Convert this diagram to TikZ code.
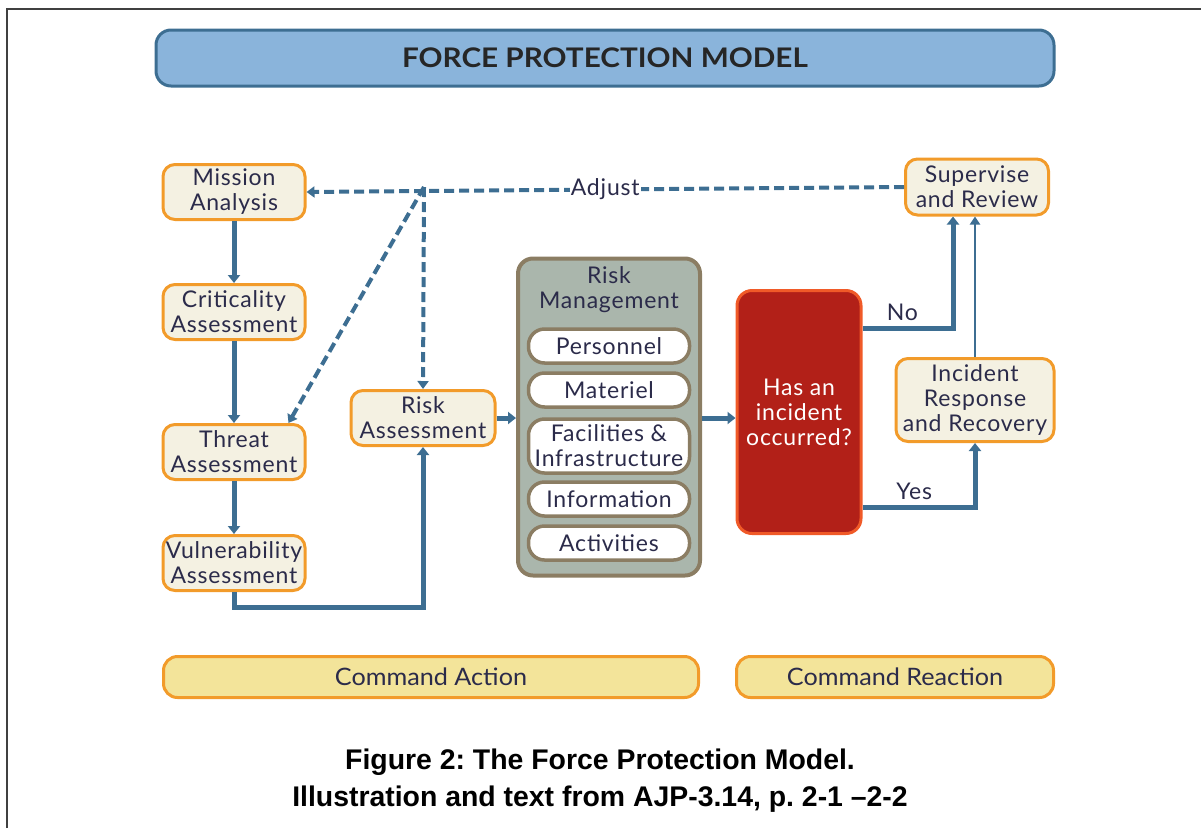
\documentclass[tikz,border=0pt]{standalone}
\usepackage{fontspec}
\setmainfont{Lato}
\newfontfamily\boxfont[LetterSpace=3.5]{Lato}
\newfontfamily\capfont{Liberation Sans}
\usetikzlibrary{arrows.meta}
\definecolor{lnblue}{HTML}{3D6E92}
\definecolor{boxfill}{HTML}{F4F1E2}
\definecolor{boxline}{HTML}{F29B2A}
\definecolor{txt}{HTML}{2B2B4A}
\definecolor{titlefill}{HTML}{8AB4DB}
\definecolor{titleline}{HTML}{3D6E92}
\definecolor{rmfill}{HTML}{AAB6AC}
\definecolor{rmline}{HTML}{8B7D63}
\definecolor{redfill}{HTML}{B22018}
\definecolor{redline}{HTML}{F05A28}
\definecolor{cmdfill}{HTML}{F3E49A}
\frenchspacing
\begin{document}
\begin{tikzpicture}[x=1pt,y=-1pt,
  stepbox/.style={draw=boxline, line width=3pt, fill=boxfill, rounded corners=12pt,
    text=txt, align=center, font=\boxfont\fontsize{23}{25}\selectfont,
    minimum width=142pt, minimum height=55pt, inner sep=0pt},
  pill/.style={draw=rmline, line width=3.5pt, fill=white, rounded corners=16pt,
    text=txt, align=center, font=\boxfont\fontsize{23}{25}\selectfont,
    minimum width=161pt, minimum height=34pt, inner sep=0pt},
  cmdbox/.style={draw=boxline, line width=3pt, fill=cmdfill, rounded corners=14pt,
    text=txt, font=\fontsize{24}{26}\selectfont, minimum height=41pt, inner sep=0pt},
  flow/.style={draw=lnblue, line width=5pt, -{Triangle[length=8pt,width=12pt]}},
  thinflow/.style={draw=lnblue, line width=2.5pt, -{Triangle[length=8pt,width=10pt]}},
  dashflow/.style={draw=lnblue, line width=4pt, dash pattern=on 10pt off 5pt,
    -{Triangle[length=8pt,width=11pt]}},
  lbl/.style={text=txt, font=\boxfont\fontsize{23}{25}\selectfont, inner sep=2pt}
]
\useasboundingbox (0,0) rectangle (1201,828);
% frame lines
\draw[line width=1.8pt, black!75] (7,828) -- (7,9) -- (1201,9);

% title
\node[draw=titleline, line width=3pt, fill=titlefill, rounded corners=15pt,
  minimum width=898pt, minimum height=56pt, inner sep=0pt,
  font=\bfseries\fontsize{27}{28}\selectfont, text=black!85] (title) at (605,58)
  {\scalebox{1.1}[1]{FORCE PROTECTION MODEL}};

% left column
\node[stepbox] (ma) at (234,192) {Mission\\Analysis};
\node[stepbox] (ca) at (234,312) {Criticality\\Assessment};
\node[stepbox] (ta) at (234,452) {Threat\\Assessment};
\node[stepbox] (va) at (234,563) {Vulnerability\\Assessment};
\node[stepbox, minimum width=144pt] (ra) at (423,418) {Risk\\Assessment};

% risk management
\node[draw=rmline, line width=4pt, fill=rmfill, rounded corners=15pt,
  minimum width=182pt, minimum height=317pt, inner sep=0pt] (rm) at (609,417) {};
\node[lbl, align=center] (rmt) at (609,290) {Risk\\Management};
\node[pill] (p1) at (609,346) {Personnel};
\node[pill] (p2) at (609,390) {Materiel};
\node[pill, minimum height=54pt] (p3) at (609,446) {Facilities \&\\Infrastructure};
\node[pill] (p4) at (609,499) {Information};
\node[pill] (p5) at (609,543) {Activities};

% decision
\node[draw=redline, line width=3pt, fill=redfill, rounded corners=15pt,
  minimum width=124pt, minimum height=243pt, inner sep=0pt, align=center,
  text=white, font=\boxfont\fontsize{23}{25}\selectfont] (hi) at (799,412)
  {Has an\\incident\\occurred?};

% right column
\node[stepbox, minimum width=143pt, minimum height=56pt] (sr) at (977,187) {Supervise\\and Review};
\node[stepbox, minimum width=158pt, minimum height=83pt] (ir) at (975,400) {Incident\\Response\\and Recovery};

% command bars
\node[cmdbox, minimum width=535pt] (cact) at (431,677) {\scalebox{1.05}[1]{Command Action}};
\node[cmdbox, minimum width=317pt] (creact) at (895,677) {\scalebox{1.05}[1]{Command Reaction}};

% caption
\node[font=\capfont\bfseries\fontsize{28.4}{37}\selectfont, align=center, text=black] (cap) at (600,781)
  {Figure 2: The Force Protection Model.\\Illustration and text from AJP-3.14, p. 2-1 –2-2};

% connectors
\draw[flow] (ma) -- (ca);
\draw[flow] (ca) -- (ta);
\draw[flow] (ta) -- (va);
\draw[flow] (va.south) -- ++(0,15) -| (ra.south);
\draw[flow] (ra.east) -- (ra.east -| rm.west);
\draw[flow] (rm.east |- ra.east) -- (hi.west |- ra.east);
\draw[flow] ([yshift=84pt]hi.east) -| node[pos=0.22, above=3pt, lbl] {No} ([xshift=-24pt]sr.south);
\draw[flow] ([yshift=-95pt]hi.east) -| node[pos=0.23, above=3pt, lbl] {Yes} (ir.south);
\draw[thinflow] (ir.north) -- (ir.north |- sr.south);

% adjust loop
\coordinate (j) at (424,187);
\draw[dashflow] (sr.west) -- node[fill=white, lbl, inner xsep=1pt] {Adjust} (ma.east);
\draw[dashflow] (j) -- (ra.north);
\draw[dashflow] (j) -- ([xshift=-18pt]ta.north east);
\end{tikzpicture}
\end{document}
